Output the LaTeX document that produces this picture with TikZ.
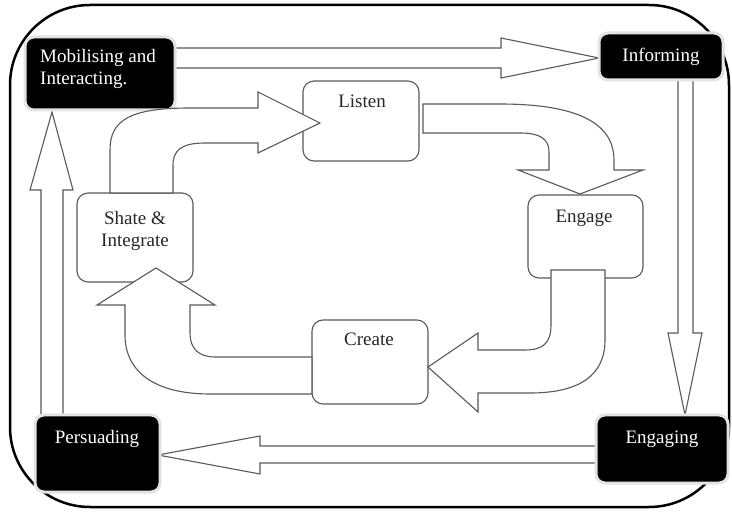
\documentclass[tikz,border=0pt]{standalone}
\usepackage{fontspec}
\setmainfont{Liberation Serif}
\usetikzlibrary{calc}
\definecolor{boxgray}{gray}{0.35}
\begin{document}
\begin{tikzpicture}[x=1pt,y=-1pt,
  wbox/.style={draw=boxgray, line width=1.1pt, rounded corners=11pt, fill=white, inner sep=0pt},
  bbox/.style={draw=gray!22, line width=3pt, rounded corners=9pt, fill=black, inner sep=0pt},
  blk/.style={draw=boxgray, line width=1.1pt, fill=white, line join=miter},
  lbl/.style={font=\fontsize{19}{22}\selectfont, text=black!85, inner sep=0pt, anchor=base},
  wlbl/.style={lbl, text=white}]
\useasboundingbox (0,0) rectangle (732,513);
% outer frame
\draw[line width=2.5pt, rounded corners=80pt] (10,5) rectangle (729,507);
% straight block arrows (outer cycle)
\draw[blk] (170,48) -- (501,48) -- (501,38) -- (599,58) -- (501,78) -- (501,68) -- (170,68) -- cycle;
\draw[blk] (678,75) -- (678,333) -- (668,333) -- (685,415) -- (702,333) -- (693,333) -- (693,75) -- cycle;
\draw[blk] (600,446) -- (260,446) -- (260,436) -- (158,455) -- (260,474) -- (260,463) -- (600,463) -- cycle;
\draw[blk] (41,420) -- (41,190) -- (30,190) -- (52,112) -- (73,190) -- (63,190) -- (63,420) -- cycle;
% black boxes
\node[bbox, minimum width=150pt, minimum height=73pt] (mob) at (100,73.5) {};
\node[bbox, minimum width=124pt, minimum height=47pt] (inf) at (661,56.5) {};
\node[bbox, minimum width=125pt, minimum height=77pt] (per) at (97.5,453.5) {};
\node[bbox, minimum width=132pt, minimum height=68pt] (eng) at (662,449) {};
% white boxes
\node[wbox, minimum width=116pt, minimum height=80pt] (listen) at (361,121) {};
\node[wbox, minimum width=115pt, minimum height=83pt] (engage) at (585.5,236.5) {};
\node[wbox, minimum width=116pt, minimum height=84pt] (create) at (370,362) {};
\node[wbox, minimum width=116pt, minimum height=89pt] (shate) at (135,237.5) {};
% curved block arrows (inner cycle)
\draw[blk] (110,193) -- (110,150) .. controls (110,120) and (130,108) .. (190,108) -- (258,108) -- (258,92) -- (320,123) -- (258,153) -- (258,143) -- (205,143) .. controls (182,143) and (173,150) .. (173,165) -- (173,193) -- cycle;
\draw[blk] (423,104) -- (500,104) .. controls (590,104) and (614,130) .. (614,160) -- (614,170) -- (643,170) -- (580,194) -- (518,170) -- (549,170) -- (549,152) .. controls (549,139) and (540,133) .. (520,133) -- (423,133) -- cycle;
\draw[blk] (551,270) -- (551,325) .. controls (551,343) and (543,350) .. (525,350) -- (478,350) -- (478,333) -- (428,367) -- (478,412) -- (478,393) -- (530,393) .. controls (580,393) and (605,375) .. (605,340) -- (605,270) -- cycle;
\draw[blk] (312,357) -- (215,357) .. controls (198,357) and (190,348) .. (190,333) -- (190,305) -- (215,305) -- (156,268) -- (97,305) -- (125,305) -- (125,335) .. controls (125,372) and (155,394) .. (210,394) -- (312,394) -- cycle;
% labels
\node[wlbl, anchor=base west] (mobt1) at (40,63) {Mobilising and};
\node[wlbl, anchor=base west] (mobt2) at (40,85) {Interacting.};
\node[wlbl] (inft) at (661,62) {Informing};
\node[wlbl] (pert) at (97,443) {Persuading};
\node[wlbl] (engt) at (662,443) {Engaging};
\node[lbl] (listent) at (362,108) {Listen};
\node[lbl] (engaget) at (584,223) {Engage};
\node[lbl] (createt) at (369,346) {Create};
\node[lbl] (shatet1) at (135,225) {Shate \&};
\node[lbl] (shatet2) at (135,247) {Integrate};
\end{tikzpicture}
\end{document}
